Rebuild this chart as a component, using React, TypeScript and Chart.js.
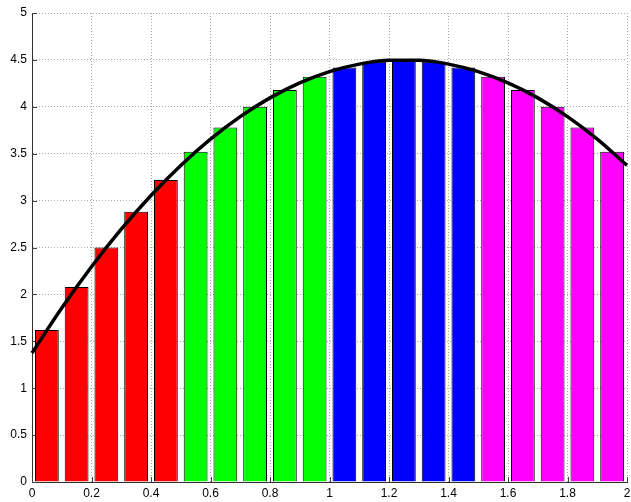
import React, { useEffect, useRef } from "react";
import { Chart, registerables } from "chart.js";

Chart.register(...registerables);

// Bar centres (x) and heights
const barX = [0.05, 0.15, 0.25, 0.35, 0.45, 0.55, 0.65, 0.75, 0.85, 0.95, 1.05, 1.15, 1.25, 1.35, 1.45, 1.55, 1.65, 1.75, 1.85, 1.95];
const barY = [1.62, 2.08, 2.5, 2.88, 3.22, 3.52, 3.78, 4.0, 4.18, 4.32, 4.42, 4.48, 4.5, 4.48, 4.42, 4.32, 4.18, 4.0, 3.78, 3.52];
const barColors = [
  "#ff0000", "#ff0000", "#ff0000", "#ff0000", "#ff0000",
  "#00ff00", "#00ff00", "#00ff00", "#00ff00", "#00ff00",
  "#0000ff", "#0000ff", "#0000ff", "#0000ff", "#0000ff",
  "#ff00ff", "#ff00ff", "#ff00ff", "#ff00ff", "#ff00ff",
];

// Curve samples
const curveX = [0, 0.1, 0.2, 0.3, 0.4, 0.5, 0.6, 0.7, 0.8, 0.9, 1.0, 1.1, 1.2, 1.3, 1.4, 1.5, 1.6, 1.7, 1.8, 1.9, 2.0];
const curveY = [1.375, 1.855, 2.295, 2.695, 3.055, 3.375, 3.655, 3.895, 4.095, 4.255, 4.375, 4.455, 4.495, 4.495, 4.455, 4.375, 4.255, 4.095, 3.895, 3.655, 3.375];

const FONT = "'Liberation Sans', Arial, sans-serif";

const fmt = (v: any) => String(Math.round(Number(v) * 100) / 100);

const innerTicks = {
  id: "innerTicks",
  beforeDatasetsDraw(chart: any) {
    const { ctx, chartArea, scales } = chart;
    ctx.save();
    ctx.strokeStyle = "#404040";
    ctx.lineWidth = 1;
    ctx.beginPath();
    scales.y.ticks.forEach((t: any) => {
      const y = Math.round(scales.y.getPixelForValue(t.value)) + 0.5;
      ctx.moveTo(chartArea.left, y);
      ctx.lineTo(chartArea.left + 5, y);
    });
    scales.x.ticks.forEach((t: any) => {
      const x = Math.round(scales.x.getPixelForValue(t.value)) + 0.5;
      ctx.moveTo(x, chartArea.bottom);
      ctx.lineTo(x, chartArea.bottom - 5);
    });
    ctx.stroke();
    ctx.restore();
  },
};

export default function App() {
  const ref = useRef<HTMLCanvasElement | null>(null);
  useEffect(() => {
    if (!ref.current) return;
    const chart = new Chart(ref.current, {
      type: "bar",
      data: {
        datasets: [
          {
            type: "line",
            data: curveX.map((x, i) => ({ x, y: curveY[i] })),
            borderColor: "#000000",
            borderWidth: 3.5,
            pointRadius: 0,
            tension: 0.4,
            cubicInterpolationMode: "monotone",
            order: 0,
            clip: false,
          } as any,
          {
            type: "bar",
            data: barX.map((x, i) => ({ x, y: barY[i] })),
            backgroundColor: barColors,
            borderColor: "#000000",
            borderWidth: 1,
            barPercentage: 0.8,
            categoryPercentage: 1.0,
            order: 1,
          } as any,
        ],
      },
      options: {
        responsive: false,
        animation: false,
        layout: { padding: { top: 13, right: 4, left: 0, bottom: 0 } },
        plugins: { legend: { display: false }, tooltip: { enabled: false } },
        scales: {
          x: {
            type: "linear",
            min: 0,
            max: 2,
            offset: false,
            ticks: { stepSize: 0.2, color: "#000", font: { family: FONT, size: 12 }, padding: 4, maxRotation: 0, callback: fmt },
            grid: { color: "#a8a8a8", tickLength: 0, offset: false },
            border: { display: true, color: "#303030", width: 1, dash: [1, 2] },
            afterFit: (s: any) => { s.height = 20; s.paddingRight = 0; s.paddingLeft = 0; },
          },
          y: {
            type: "linear",
            min: 0,
            max: 5,
            ticks: { stepSize: 0.5, color: "#000", font: { family: FONT, size: 12 }, padding: 5, callback: fmt },
            grid: { color: "#a8a8a8", tickLength: 0 },
            border: { display: true, color: "#303030", width: 1, dash: [1, 2] },
            afterFit: (s: any) => { s.width = 32; s.paddingTop = 0; s.paddingBottom = 0; },
          },
        },
      } as any,
      plugins: [innerTicks],
    });
    return () => chart.destroy();
  }, []);
  return (
    <div style={{ position: "absolute", left: 0, top: 0, width: 631, height: 502, background: "#fff" }}>
      <canvas ref={ref} width={631} height={502} />
    </div>
  );
}
